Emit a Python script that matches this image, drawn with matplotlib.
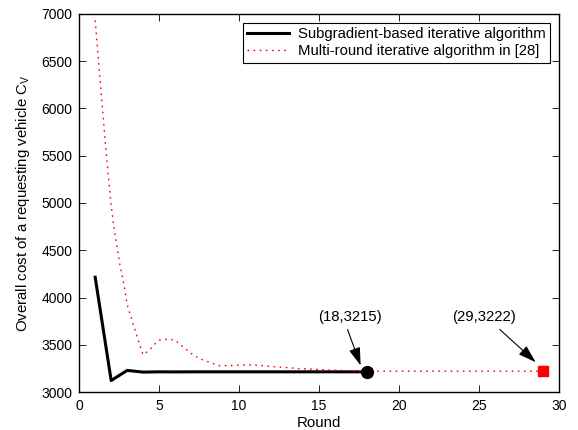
import numpy as np
import matplotlib.pyplot as plt

plt.rcParams['font.family'] = ['Liberation Sans', 'DejaVu Sans']
plt.rcParams['font.size'] = 10

# Subgradient-based iterative algorithm (rounds 1..18)
sub_rounds = list(range(1, 19))
sub_cost = [4215, 3123, 3230, 3212, 3215, 3214, 3215, 3215, 3215,
            3215, 3215, 3215, 3215, 3215, 3215, 3215, 3215, 3215]

# Multi-round iterative algorithm in [28]
mr_rounds = [1, 1.25, 1.5, 1.65, 1.8, 2, 2.15, 2.35, 2.55, 2.8, 3, 3.3, 3.6,
             3.8, 4, 4.2, 4.5, 4.75, 5, 5.5, 6, 6.5, 7, 7.5, 8, 8.75, 9.5,
             10.4, 11.2, 12, 12.9, 13.7, 14.5, 15.4, 16, 17, 18, 19, 20, 21,
             22, 23, 24, 25, 26, 27, 28, 29]
mr_cost = [6930, 6420, 5910, 5600, 5330, 4975, 4765, 4553, 4341, 4137, 3925,
           3760, 3600, 3490, 3395, 3420, 3465, 3512, 3550, 3560, 3550, 3478,
           3410, 3355, 3325, 3280, 3282, 3289, 3285, 3271, 3261, 3250, 3243,
           3236, 3232, 3226, 3222, 3222, 3222, 3222, 3222, 3222, 3222, 3222,
           3222, 3222, 3222, 3222]

fig = plt.figure(figsize=(5.78, 4.30), dpi=100)
ax = fig.add_axes([0.137, 0.088, 0.830, 0.880])

ax.plot(sub_rounds, sub_cost, color='black', linewidth=2.2,
        label='Subgradient-based iterative algorithm')
ax.plot(mr_rounds, mr_cost, color='red', linewidth=1.0,
        linestyle=(0, (1.2, 3.2)), label='Multi-round iterative algorithm in [28]')

# end points
ax.plot(sub_rounds[-1], sub_cost[-1], 'o', color='black', markersize=8.5)
ax.plot(mr_rounds[-1], mr_cost[-1], 's', color='red', markersize=7.8)

arrow = dict(arrowstyle='-|>,head_length=1.1,head_width=0.35', color='black',
             linewidth=0.8, shrinkA=0, shrinkB=0, mutation_scale=10)
ax.text(16.9, 3790, '(18,3215)', ha='center', va='center', fontsize=10.7)
ax.annotate('', xy=(17.6, 3282), xytext=(16.78, 3663), arrowprops=arrow)
ax.text(25.3, 3790, '(29,3222)', ha='center', va='center', fontsize=10.7)
ax.annotate('', xy=(28.55, 3317), xytext=(26.3, 3663), arrowprops=arrow)

ax.set_xlim(0, 30)
ax.set_ylim(3000, 7000)
ax.set_xticks(np.arange(0, 31, 5))
ax.set_yticks(np.arange(3000, 7001, 500))
ax.tick_params(direction='in', top=True, right=True, length=5, width=0.6, pad=5)
for s in ax.spines.values():
    s.set_linewidth(1.0)

ax.set_xlabel('Round', labelpad=2, fontsize=10.8)
ax.set_ylabel('Overall cost of a requesting vehicle C$_\\mathregular{V}$',
              labelpad=7, fontsize=10.8)

leg = ax.legend(loc='upper right', fancybox=False, framealpha=1, edgecolor='black',
                borderpad=0.3, labelspacing=0.2, handlelength=2.8,
                handletextpad=0.6, borderaxespad=0.6, fontsize=10.7)
leg.get_frame().set_linewidth(0.8)

plt.savefig('out.png')
plt.close()
